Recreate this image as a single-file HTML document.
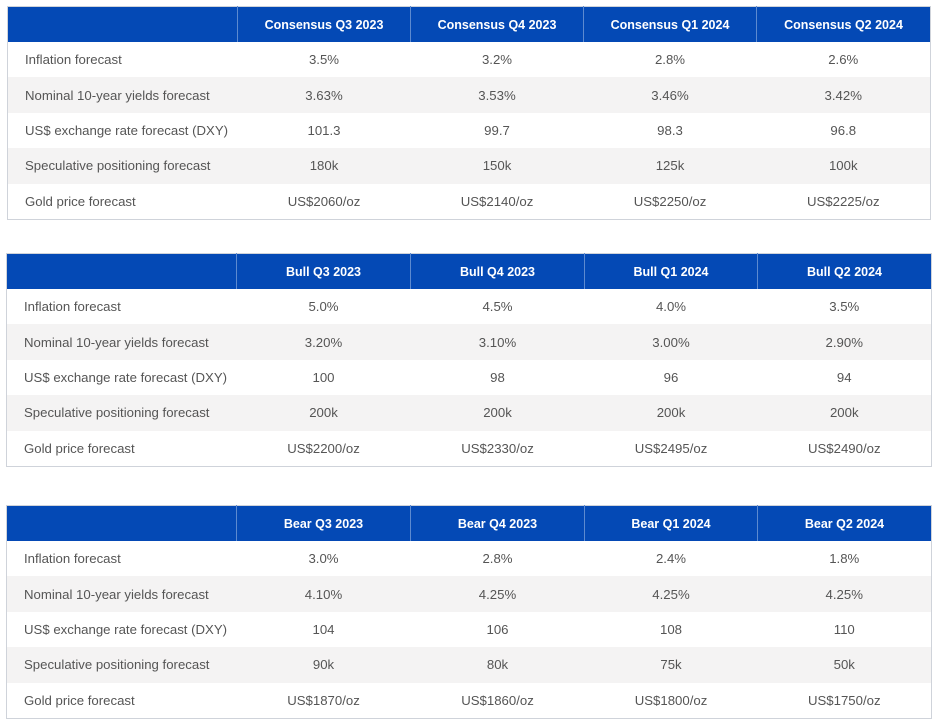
<!DOCTYPE html>
<html><head><style>
body{margin:0;width:941px;height:727px;background:#fff;position:relative;overflow:hidden;font-family:"Liberation Sans",sans-serif}
table{position:absolute;border-collapse:collapse;border:1px solid #cfd3da;table-layout:fixed}
th{background:#0449b5;color:#fff;font-size:12.5px;font-weight:bold;height:35px;padding:0;border-left:1px solid #5d8ad0;text-align:center}
th:first-child{border-left:none}
td{font-size:13.2px;color:#555;height:35.4px;padding:0;text-align:center}
td:first-child{text-align:left;padding-left:17px}
tr.h td{background:#fff}
</style></head><body>
<table style="left:7px;top:6px;width:923px">
<colgroup><col style="width:230px"><col style="width:173px"><col style="width:173px"><col style="width:173px"><col style="width:174px"></colgroup>
<tr><th></th><th>Consensus Q3 2023</th><th>Consensus Q4 2023</th><th>Consensus Q1 2024</th><th>Consensus Q2 2024</th></tr>
<tr class="h"><td>Inflation forecast</td><td>3.5%</td><td>3.2%</td><td>2.8%</td><td>2.6%</td></tr>
<tr><td style="background:#f4f3f3">Nominal 10-year yields forecast</td><td style="background:#f4f3f3">3.63%</td><td style="background:#f4f3f3">3.53%</td><td style="background:#f4f3f3">3.46%</td><td style="background:#f4f3f3">3.42%</td></tr>
<tr class="h"><td>US$ exchange rate forecast (DXY)</td><td>101.3</td><td>99.7</td><td>98.3</td><td>96.8</td></tr>
<tr><td style="background:#f4f3f3">Speculative positioning forecast</td><td style="background:#f4f3f3">180k</td><td style="background:#f4f3f3">150k</td><td style="background:#f4f3f3">125k</td><td style="background:#f4f3f3">100k</td></tr>
<tr class="h"><td>Gold price forecast</td><td>US$2060/oz</td><td>US$2140/oz</td><td>US$2250/oz</td><td>US$2225/oz</td></tr>
</table>
<table style="left:6px;top:253px;width:925px">
<colgroup><col style="width:230px"><col style="width:174px"><col style="width:174px"><col style="width:173px"><col style="width:174px"></colgroup>
<tr><th></th><th>Bull Q3 2023</th><th>Bull Q4 2023</th><th>Bull Q1 2024</th><th>Bull Q2 2024</th></tr>
<tr class="h"><td>Inflation forecast</td><td>5.0%</td><td>4.5%</td><td>4.0%</td><td>3.5%</td></tr>
<tr><td style="background:#f4f3f3">Nominal 10-year yields forecast</td><td style="background:#f4f3f3">3.20%</td><td style="background:#f4f3f3">3.10%</td><td style="background:#f4f3f3">3.00%</td><td style="background:#f4f3f3">2.90%</td></tr>
<tr class="h"><td>US$ exchange rate forecast (DXY)</td><td>100</td><td>98</td><td>96</td><td>94</td></tr>
<tr><td style="background:#f4f3f3">Speculative positioning forecast</td><td style="background:#f4f3f3">200k</td><td style="background:#f4f3f3">200k</td><td style="background:#f4f3f3">200k</td><td style="background:#f4f3f3">200k</td></tr>
<tr class="h"><td>Gold price forecast</td><td>US$2200/oz</td><td>US$2330/oz</td><td>US$2495/oz</td><td>US$2490/oz</td></tr>
</table>
<table style="left:6px;top:505px;width:925px">
<colgroup><col style="width:230px"><col style="width:174px"><col style="width:174px"><col style="width:173px"><col style="width:174px"></colgroup>
<tr><th></th><th>Bear Q3 2023</th><th>Bear Q4 2023</th><th>Bear Q1 2024</th><th>Bear Q2 2024</th></tr>
<tr class="h"><td>Inflation forecast</td><td>3.0%</td><td>2.8%</td><td>2.4%</td><td>1.8%</td></tr>
<tr><td style="background:#f4f3f3">Nominal 10-year yields forecast</td><td style="background:#f4f3f3">4.10%</td><td style="background:#f4f3f3">4.25%</td><td style="background:#f4f3f3">4.25%</td><td style="background:#f4f3f3">4.25%</td></tr>
<tr class="h"><td>US$ exchange rate forecast (DXY)</td><td>104</td><td>106</td><td>108</td><td>110</td></tr>
<tr><td style="background:#f4f3f3">Speculative positioning forecast</td><td style="background:#f4f3f3">90k</td><td style="background:#f4f3f3">80k</td><td style="background:#f4f3f3">75k</td><td style="background:#f4f3f3">50k</td></tr>
<tr class="h"><td>Gold price forecast</td><td>US$1870/oz</td><td>US$1860/oz</td><td>US$1800/oz</td><td>US$1750/oz</td></tr>
</table>
</body></html>
